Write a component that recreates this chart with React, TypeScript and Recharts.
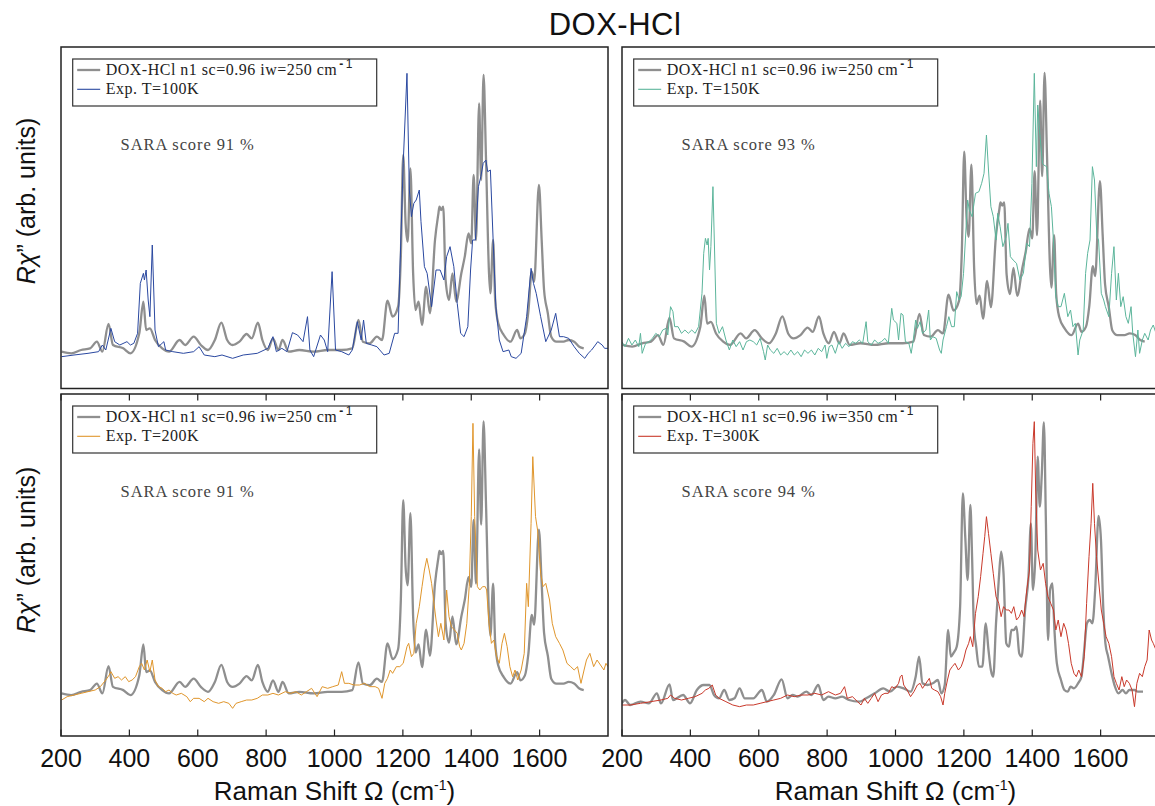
import React from 'react';
import { LineChart, Line, XAxis, YAxis } from 'recharts';

// ---------- data (x: Raman shift in cm^-1, y: intensity, arb. units) ----------
const X_TICKS = [200, 400, 600, 800, 1000, 1200, 1400, 1600];

const theory250: [number, number][] = [
  [202,65],[230,60],[259,70],[285,75],[305,95],[321,65],[339,148],[352,85],[382,75],[403,60],[429,120],[441,215],[449,130],[460,135],[475,100],[496,75],[516,65],[547,100],[563,85],[588,110],[609,85],[630,70],[650,100],[669,152],[686,100],[702,85],[722,95],[743,118],[758,105],[776,152],[789,100],[805,70],[820,105],[836,70],[848,100],[866,65],[897,70],[939,65],[980,70],[1021,70],[1052,75],[1070,160],[1083,95],[1103,90],[1124,110],[1139,100],[1155,218],[1170,170],[1186,200],[1194,350],[1201,655],[1208,450],[1214,395],[1222,615],[1230,300],[1237,190],[1246,215],[1256,145],[1268,260],[1279,180],[1294,400],[1304,480],[1307,500],[1312,490],[1318,500],[1325,280],[1335,220],[1345,300],[1356,215],[1371,300],[1381,350],[1392,420],[1400,390],[1407,595],[1414,400],[1423,810],[1429,580],[1436,895],[1443,650],[1452,300],[1456,240],[1464,400],[1470,220],[1479,150],[1495,115],[1515,95],[1534,130],[1544,105],[1557,120],[1567,185],[1577,305],[1584,275],[1598,565],[1606,400],[1613,250],[1624,180],[1634,110],[1649,95],[1670,95],[1685,100],[1701,95],[1716,80],[1729,75],
];

const theory350: [number, number][] = [
  [199,60],[209,70],[224,55],[254,65],[279,60],[302,90],[314,60],[339,117],[349,70],[379,85],[399,60],[419,100],[439,115],[456,115],[469,85],[484,75],[499,100],[514,70],[529,75],[544,105],[559,75],[584,75],[609,100],[624,65],[644,85],[667,132],[684,75],[699,85],[714,80],[739,95],[754,85],[774,115],[789,70],[804,80],[824,75],[844,80],[864,70],[894,65],[914,75],[939,90],[964,105],[984,95],[1004,110],[1024,105],[1044,95],[1059,140],[1069,200],[1079,120],[1094,115],[1109,120],[1124,130],[1134,90],[1144,115],[1154,280],[1162,200],[1169,210],[1179,230],[1189,350],[1197,690],[1204,560],[1211,430],[1219,655],[1224,500],[1229,300],[1236,230],[1244,170],[1254,170],[1264,300],[1272,220],[1279,160],[1286,140],[1294,300],[1302,430],[1309,515],[1316,450],[1324,240],[1332,230],[1339,280],[1346,280],[1354,290],[1362,210],[1369,200],[1379,340],[1389,440],[1396,600],[1402,400],[1409,500],[1416,800],[1422,650],[1428,750],[1434,903],[1440,600],[1446,250],[1452,400],[1459,420],[1464,300],[1472,180],[1484,130],[1494,100],[1504,95],[1512,110],[1522,105],[1534,120],[1544,140],[1552,220],[1560,300],[1568,310],[1576,300],[1584,400],[1594,622],[1601,550],[1608,340],[1614,240],[1622,200],[1632,150],[1642,110],[1652,90],[1664,100],[1674,90],[1684,100],[1699,100],[1709,95],[1724,95],
];

const exp100K: [number, number][] = [
  [202,50],[238,55],[279,60],[310,65],[321,85],[331,70],[346,135],[357,95],[372,85],[393,95],[403,85],[413,90],[424,120],[432,270],[441,300],[444,280],[449,310],[455,220],[460,170],[467,385],[475,130],[485,80],[501,95],[506,70],[527,65],[558,60],[588,65],[604,80],[619,55],[650,50],[671,55],[702,45],[733,55],[774,60],[805,75],[820,110],[830,65],[846,75],[861,65],[877,122],[892,115],[908,95],[921,170],[928,70],[939,50],[959,115],[970,100],[980,65],[993,305],[1003,70],[1021,65],[1042,55],[1052,70],[1067,155],[1078,100],[1085,160],[1093,90],[1109,85],[1124,80],[1145,55],[1160,60],[1176,120],[1186,120],[1191,300],[1201,630],[1212,900],[1219,550],[1225,470],[1232,510],[1239,520],[1248,550],[1253,455],[1263,320],[1271,300],[1284,200],[1297,310],[1309,310],[1320,280],[1328,350],[1338,380],[1349,320],[1359,210],[1369,120],[1379,110],[1390,140],[1398,310],[1404,400],[1412,400],[1421,560],[1428,590],[1435,630],[1443,640],[1448,605],[1456,610],[1464,400],[1472,200],[1482,100],[1493,65],[1510,70],[1517,50],[1531,45],[1546,60],[1562,170],[1575,315],[1582,270],[1590,240],[1603,170],[1618,95],[1634,130],[1647,180],[1658,110],[1670,110],[1685,105],[1701,80],[1716,60],[1732,45],[1742,60],[1752,70],[1763,85],[1770,95],[1783,85],[1790,75],[1800,75],
];

const exp150K: [number, number][] = [
  [199,95],[209,80],[219,105],[229,85],[239,100],[249,80],[254,120],[259,60],[269,90],[279,95],[289,105],[299,120],[309,110],[319,130],[329,135],[334,115],[342,200],[349,185],[354,140],[364,140],[374,120],[384,130],[394,120],[404,130],[414,120],[424,140],[434,240],[439,360],[444,405],[449,385],[452,405],[456,310],[460,380],[466,560],[470,400],[476,150],[484,120],[494,140],[504,100],[514,70],[524,100],[534,80],[544,95],[554,70],[564,95],[574,100],[584,95],[594,85],[604,105],[614,65],[619,40],[626,85],[634,70],[644,60],[654,75],[664,55],[674,65],[684,55],[694,70],[704,55],[714,65],[724,50],[734,70],[744,60],[754,70],[764,55],[774,75],[784,65],[794,85],[799,45],[806,80],[814,85],[824,60],[834,95],[844,75],[854,90],[864,80],[874,95],[884,90],[894,100],[904,90],[914,155],[919,95],[929,85],[939,100],[949,90],[959,95],[969,105],[979,90],[989,195],[994,160],[1004,150],[1009,100],[1016,180],[1022,175],[1029,95],[1039,90],[1046,60],[1052,100],[1059,160],[1064,135],[1072,155],[1079,120],[1089,130],[1097,190],[1102,100],[1109,110],[1119,105],[1129,70],[1134,60],[1139,100],[1149,140],[1156,170],[1164,140],[1172,140],[1179,245],[1186,220],[1192,230],[1199,300],[1206,430],[1211,520],[1216,490],[1224,470],[1234,540],[1244,545],[1252,570],[1259,600],[1266,715],[1272,610],[1279,500],[1286,470],[1294,400],[1299,480],[1306,440],[1314,380],[1324,410],[1329,450],[1336,350],[1344,340],[1354,330],[1364,280],[1374,300],[1384,390],[1392,380],[1399,570],[1406,900],[1412,620],[1416,805],[1422,720],[1430,630],[1434,625],[1442,620],[1449,540],[1456,500],[1462,400],[1469,230],[1476,200],[1484,200],[1494,240],[1504,170],[1512,190],[1519,140],[1526,150],[1534,55],[1539,100],[1549,130],[1556,300],[1562,360],[1569,400],[1576,620],[1582,580],[1589,410],[1594,400],[1602,240],[1609,220],[1614,200],[1624,170],[1632,300],[1639,380],[1646,220],[1652,300],[1659,200],[1666,230],[1674,170],[1681,150],[1689,200],[1694,120],[1702,50],[1709,130],[1714,60],[1722,100],[1729,120],[1739,100],[1746,130],[1754,145],[1762,120],[1780,130],[1800,110],
];

const exp200K: [number, number][] = [
  [202,70],[218,80],[238,85],[259,90],[279,95],[300,100],[315,110],[331,130],[341,145],[346,155],[357,135],[367,140],[377,130],[388,140],[398,125],[408,130],[418,140],[429,170],[436,180],[444,160],[452,190],[460,155],[467,190],[475,130],[485,110],[496,105],[506,95],[516,100],[527,90],[537,85],[552,90],[568,80],[578,65],[588,75],[604,75],[619,65],[630,75],[645,65],[661,60],[676,65],[691,60],[702,45],[712,60],[727,65],[743,70],[758,70],[774,75],[789,85],[805,85],[820,90],[836,85],[856,95],[872,90],[887,95],[903,85],[918,95],[933,105],[949,80],[964,110],[980,105],[995,110],[1011,115],[1021,155],[1029,120],[1042,120],[1057,115],[1073,115],[1088,120],[1103,110],[1119,110],[1129,105],[1139,75],[1147,120],[1155,135],[1163,160],[1170,150],[1181,170],[1191,170],[1201,180],[1212,230],[1217,240],[1225,200],[1232,210],[1239,300],[1248,350],[1256,410],[1263,460],[1270,495],[1277,460],[1284,420],[1291,360],[1297,310],[1304,260],[1311,300],[1320,250],[1328,400],[1335,320],[1342,290],[1351,280],[1359,270],[1366,230],[1371,220],[1379,240],[1387,300],[1394,410],[1400,620],[1405,900],[1410,620],[1418,410],[1425,400],[1433,410],[1441,410],[1445,400],[1452,300],[1459,240],[1466,250],[1474,200],[1482,180],[1490,240],[1497,270],[1505,230],[1513,170],[1521,140],[1528,160],[1536,130],[1546,160],[1555,210],[1562,420],[1567,350],[1575,600],[1580,800],[1588,620],[1594,580],[1603,450],[1610,410],[1618,420],[1629,370],[1637,300],[1647,260],[1658,240],[1668,220],[1680,180],[1691,170],[1701,160],[1711,170],[1721,120],[1730,160],[1737,190],[1747,210],[1758,170],[1768,190],[1778,175],[1788,160],[1794,180],[1800,170],
];

const exp300K: [number, number][] = [
  [199,55],[224,55],[254,60],[284,65],[314,70],[334,75],[342,85],[354,75],[374,70],[394,75],[414,80],[434,90],[444,100],[454,105],[464,115],[474,85],[484,75],[504,65],[524,55],[544,50],[564,55],[584,55],[604,60],[624,65],[644,70],[664,75],[684,85],[704,80],[724,85],[744,85],[764,90],[784,85],[804,95],[824,85],[839,90],[851,110],[859,75],[874,80],[889,65],[899,55],[909,75],[919,60],[929,75],[939,90],[949,65],[959,85],[969,90],[979,90],[989,110],[999,105],[1009,120],[1014,140],[1019,145],[1024,115],[1034,100],[1044,80],[1054,95],[1064,115],[1072,120],[1079,105],[1089,120],[1099,135],[1106,105],[1114,100],[1124,95],[1132,80],[1139,55],[1144,90],[1152,130],[1159,160],[1166,170],[1174,180],[1184,160],[1192,170],[1199,190],[1206,220],[1214,240],[1219,260],[1226,230],[1234,330],[1242,380],[1249,440],[1256,510],[1261,560],[1266,620],[1272,570],[1279,510],[1286,450],[1294,380],[1302,360],[1309,320],[1316,350],[1324,340],[1332,340],[1339,330],[1346,350],[1354,310],[1362,320],[1369,340],[1376,320],[1384,400],[1392,460],[1397,650],[1402,840],[1406,905],[1410,700],[1416,520],[1424,460],[1432,480],[1439,420],[1446,380],[1454,360],[1462,340],[1469,280],[1476,310],[1484,260],[1492,300],[1499,280],[1506,240],[1514,180],[1522,150],[1529,140],[1536,160],[1544,140],[1552,200],[1559,360],[1566,500],[1572,600],[1577,720],[1582,600],[1588,500],[1594,430],[1602,340],[1609,300],[1616,260],[1624,240],[1632,200],[1639,140],[1646,120],[1654,100],[1662,140],[1669,110],[1676,130],[1684,120],[1692,100],[1699,50],[1706,120],[1714,150],[1722,140],[1729,170],[1736,190],[1742,280],[1749,250],[1754,240],[1762,220],[1780,230],[1800,220],
];

const TEMPS = ['100K', '150K', '200K', '300K'];
const IW = [250, 250, 250, 350];
const SARA = [91, 93, 91, 94];
const COLORS = ['#2a48a0', '#5cb59b', '#e0962c', '#c9392b'];

// ---------- layout ----------
const PW = 547;
const PAD = 40;
const SANS = '"Liberation Sans", Arial, Helvetica, sans-serif';
const SERIF = '"Liberation Serif", "Times New Roman", serif';

const toPts = (a: [number, number][]) => a.map(([x, y]) => ({ x, y }));

type PanelDef = {
  left: number; top: number; h: number; axisH: number;
  theory: { x: number; y: number }[];
  exp: { x: number; y: number }[];
  expDomain: [number, number];
  thDomain: [number, number];
  color: string; temp: string; iw: number; sara: number;
};

const PANELS: PanelDef[] = [
  { left: 61, top: 47, h: 341.5, axisH: 0, theory: toPts(theory250), exp: toPts(exp100K), expDomain: [-45.5, 979], thDomain: [-45.5, 979], color: COLORS[0], temp: TEMPS[0], iw: IW[0], sara: SARA[0] },
  { left: 622, top: 47, h: 341.5, axisH: 0, theory: toPts(theory250), exp: toPts(exp150K), expDomain: [-45.5, 979], thDomain: [-68, 974], color: COLORS[1], temp: TEMPS[1], iw: IW[1], sara: SARA[1] },
  { left: 61, top: 394, h: 342, axisH: 70, theory: toPts(theory250), exp: toPts(exp200K), expDomain: [-38, 988], thDomain: [-65, 979], color: COLORS[2], temp: TEMPS[2], iw: IW[2], sara: SARA[2] },
  { left: 622, top: 394, h: 342, axisH: 70, theory: toPts(theory350), exp: toPts(exp300K), expDomain: [-38, 988], thDomain: [-38, 988], color: COLORS[3], temp: TEMPS[3], iw: IW[3], sara: SARA[3] },
];

function Panel({ p }: { p: PanelDef }) {
  const renderTick = (props: any) => {
    const { x, payload } = props;
    return (
      <g>
        <line x1={x} x2={x} y1={p.h} y2={p.h - 6.5} stroke="#222" strokeWidth={1.2} />
        <line x1={x} x2={x} y1={0} y2={6.5} stroke="#222" strokeWidth={1.2} />
        {p.axisH > 0 && (
          <text x={x} y={p.h + 30.7} textAnchor="middle" fontFamily={SANS} fontSize={25} fill="#111">
            {payload.value}
          </text>
        )}
      </g>
    );
  };
  return (
    <div style={{ position: 'absolute', left: p.left - PAD, top: p.top }}>
      <LineChart width={PW + 2 * PAD} height={p.h + p.axisH} margin={{ top: 0, right: PAD, bottom: 0, left: PAD }}>
        <XAxis
          dataKey="x"
          type="number"
          domain={[200, 1800]}
          ticks={X_TICKS}
          interval={0}
          allowDataOverflow
          height={p.axisH}
          tick={renderTick}
          tickLine={false}
          axisLine={false}
        />
        <YAxis yAxisId="exp" hide type="number" domain={p.expDomain} allowDataOverflow />
        <YAxis yAxisId="th" hide type="number" domain={p.thDomain} allowDataOverflow />
        <Line yAxisId="th" data={p.theory} dataKey="y" type="monotone" stroke="#8f8f8f" strokeWidth={2.3} dot={false} isAnimationActive={false} />
        <Line yAxisId="exp" data={p.exp} dataKey="y" type="linear" stroke={p.color} strokeWidth={1} dot={false} isAnimationActive={false} />
      </LineChart>
    </div>
  );
}

function Overlay() {
  return (
    <svg width={1155} height={806} style={{ position: 'absolute', left: 0, top: 0, pointerEvents: 'none' }}>
      <text x={615} y={35} textAnchor="middle" fontFamily={SANS} fontSize={31} fill="#111" style={{ letterSpacing: '0.5px' }}>DOX-HCl</text>
      {PANELS.map((p, i) => {
        const lx = p.left + 11.7;
        const ly = p.top + 12;
        return (
          <g key={i}>
            <rect x={p.left} y={p.top} width={PW} height={p.h} fill="none" stroke="#222" strokeWidth={1.5} />
            <rect x={lx} y={ly} width={304} height={47} fill="#fff" stroke="#333" strokeWidth={1.2} />
            <line x1={lx + 4.5} x2={lx + 27.5} y1={ly + 11} y2={ly + 11} stroke="#8f8f8f" strokeWidth={2.3} />
            <line x1={lx + 4.5} x2={lx + 27.5} y1={ly + 30.3} y2={ly + 30.3} stroke={p.color} strokeWidth={1.1} />
            <text x={lx + 33} y={ly + 15.5} fontFamily={SERIF} fontSize={16} fill="#222" style={{ letterSpacing: '0.5px' }}>
              {`DOX-HCl n1 sc=0.96 iw=${p.iw} cm`}
              <tspan dx={2} dy={-7} fontFamily={SANS} fontSize={12} fontWeight="bold">-</tspan>
              <tspan dx={2} fontFamily={SANS} fontSize={12}>1</tspan>
            </text>
            <text x={lx + 33} y={ly + 34.5} fontFamily={SERIF} fontSize={16} fill="#222" style={{ letterSpacing: '0.5px' }}>
              {`Exp. T=${p.temp}`}
            </text>
            <text x={p.left + 59.6} y={p.top + 103} fontFamily={SERIF} fontSize={16.5} fill="#444" style={{ letterSpacing: '0.9px' }}>
              {`SARA score ${p.sara} %`}
            </text>
          </g>
        );
      })}
      {[201, 550].map((cy, i) => (
        <text key={'y' + i} transform={`translate(35,${cy}) rotate(-90)`} textAnchor="middle" fontFamily={SANS} fontSize={25} fill="#111">
          <tspan fontStyle="italic">Rχ</tspan>
          {'\u201D (arb. units)'}
        </text>
      ))}
      {[61 + PW / 2, 622 + PW / 2].map((cx, i) => (
        <text key={'x' + i} x={cx} y={800} textAnchor="middle" fontFamily={SANS} fontSize={26} fill="#111">
          {'Raman Shift \u03A9 (cm'}
          <tspan dy={-10} fontSize={14}>-1</tspan>
          <tspan dy={10}>)</tspan>
        </text>
      ))}
    </svg>
  );
}

export default function App() {
  return (
    <div style={{ position: 'absolute', left: 0, top: 0, width: 1155, height: 806, overflow: 'hidden', background: '#fff' }}>
      {PANELS.map((p, i) => (
        <Panel key={i} p={p} />
      ))}
      <Overlay />
    </div>
  );
}
